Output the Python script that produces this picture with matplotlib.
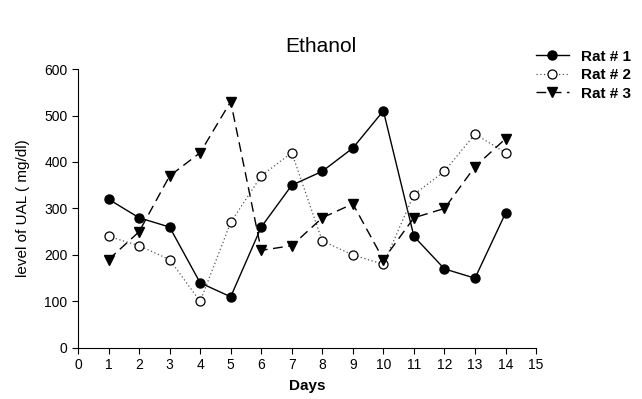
import numpy as np
import matplotlib
matplotlib.use("Agg")
from matplotlib import pyplot as plt

plt.rcParams['font.family'] = ['Liberation Sans', 'DejaVu Sans']

days = np.arange(1, 15)
rat1 = [320, 280, 260, 140, 110, 260, 350, 380, 430, 510, 240, 170, 150, 290]
rat2 = [240, 220, 190, 100, 270, 370, 420, 230, 200, 180, 330, 380, 460, 420]
rat3 = [190, 250, 370, 420, 530, 210, 220, 280, 310, 190, 280, 300, 390, 450]
labels = ["Rat # 1", "Rat # 2", "Rat # 3"]

fig = plt.figure(figsize=(6.42, 3.99), dpi=100)
ax = fig.add_axes([0.1215, 0.128, 0.7135, 0.699])

ax.plot(days, rat1, color='black', lw=1.0, ls='-', marker='o', ms=6.5,
        mfc='black', mec='black', label=labels[0])
ax.plot(days, rat2, color='#555555', lw=0.9, ls=(0, (1, 2)), marker='o', ms=6.5,
        mfc='white', mec='black', mew=0.9, label=labels[1])
ax.plot(days, rat3, color='black', lw=1.0, ls=(0, (7, 4)), marker='v', ms=7,
        mfc='black', mec='black', label=labels[2])

ax.set_xlim(0, 15)
ax.set_ylim(0, 600)
ax.set_xticks(np.arange(0, 16))
ax.set_yticks(np.arange(0, 601, 100))
for side in ('top', 'right'):
    ax.spines[side].set_visible(False)
ax.tick_params(direction='out', length=4, labelsize=10, colors='black')
ax.set_xlabel("Days", fontsize=11, fontweight='bold', labelpad=5)
ax.set_ylabel("level of UAL ( mg/dl)", fontsize=11, labelpad=10)

fig.text(0.5, 0.87, "Ethanol", ha='center', fontsize=15)

leg = fig.legend(loc='upper right', bbox_to_anchor=(1.005, 0.91), frameon=False,
                 prop={'weight': 'bold', 'size': 11}, handlelength=2.2,
                 labelspacing=0.3, handletextpad=0.8)

fig.savefig("out.png", dpi=100)
